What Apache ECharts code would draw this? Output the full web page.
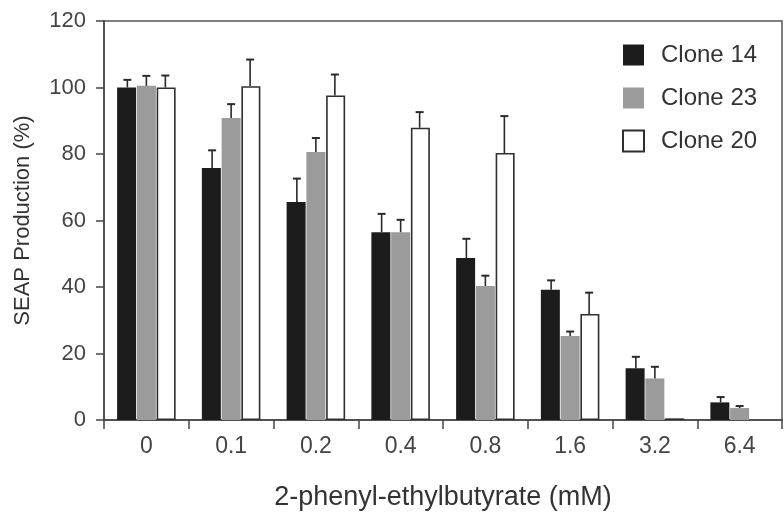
<!DOCTYPE html>
<html>
<head>
<meta charset="utf-8">
<script src="https://cdn.jsdelivr.net/npm/echarts@6/dist/echarts.min.js"></script>
<style>
  html, body { margin: 0; padding: 0; background: #fff; }
  #chart { width: 784px; height: 520px; }
</style>
</head>
<body>
<div id="chart"></div>
<script>
// concentrations (mM)
const categories = ['0', '0.1', '0.2', '0.4', '0.8', '1.6', '3.2', '6.4'];
// SEAP production (%) per clone
const clone14 = [100, 75.8, 65.6, 56.5, 48.7, 39.2, 15.6, 5.3];
const clone23 = [100.5, 90.8, 80.6, 56.5, 40.3, 25.3, 12.5, 3.6];
const clone20 = [100, 100.4, 97.6, 87.9, 80.3, 31.9, 0.5, null];
// top end of each error bar
const clone14Err = [102.3, 81.1, 72.6, 62, 54.5, 42, 19, 6.9];
const clone23Err = [103.5, 95, 84.8, 60.2, 43.4, 26.6, 16, 4.2];
const clone20Err = [103.6, 108.4, 103.9, 92.6, 91.4, 38.3, null, null];
const yTicks = [0, 20, 40, 60, 80, 100, 120];

const barW = 19;
const font = '"Liberation Sans", Arial, sans-serif';

// error bar drawn from the bar top upwards, shifted to its bar inside the group
function errSeries(name, vals, tops, slot) {
  const data = vals.map((v, i) => (v == null || tops[i] == null) ? [i, null, null] : [i, v, tops[i]]);
  return {
    name: name,
    type: 'custom',
    z: 5,
    silent: true,
    encode: { x: 0, y: [1, 2] },
    data: data,
    renderItem: function (params, api) {
      if (api.value(1) == null || isNaN(api.value(1))) return;
      const idx = api.value(0);
      const base = api.coord([idx, api.value(1)]);
      const top = api.coord([idx, api.value(2)]);
      const x = base[0] + slot * barW;
      const st = { stroke: '#2a2a2a', lineWidth: 1.6 };
      return {
        type: 'group',
        children: [
          { type: 'line', shape: { x1: x, y1: base[1], x2: x, y2: top[1] }, style: st },
          { type: 'line', shape: { x1: x - 4, y1: top[1], x2: x + 4, y2: top[1] }, style: { stroke: '#2a2a2a', lineWidth: 2 } }
        ]
      };
    }
  };
}

const myChart = echarts.init(document.getElementById('chart'));
const option = {
  animation: false,
  textStyle: { fontFamily: font },
  grid: {
    left: 104, right: 2, top: 21, bottom: 100,
    show: true, borderColor: '#555', borderWidth: 1.5
  },
  legend: {
    orient: 'vertical',
    left: 617, top: 38,
    icon: 'rect',
    itemWidth: 21, itemHeight: 21,
    itemGap: 19,
    data: ['Clone 14', 'Clone 23', 'Clone 20'],
    textStyle: { fontSize: 24, color: '#333', fontFamily: font, padding: [0, 0, 0, 12] }
  },
  xAxis: {
    type: 'category',
    data: categories,
    name: '2-phenyl-ethylbutyrate (mM)',
    nameLocation: 'middle',
    nameGap: 64,
    nameTextStyle: { fontSize: 27, color: '#333', fontFamily: font },
    axisLine: { lineStyle: { color: '#444', width: 1.5 } },
    axisTick: { show: true, length: 9, lineStyle: { color: '#444', width: 1.5 } },
    axisLabel: { fontSize: 23, color: '#444', margin: 15, fontFamily: font },
    splitLine: { show: false }
  },
  yAxis: {
    type: 'value',
    min: yTicks[0], max: yTicks[yTicks.length - 1], interval: 20,
    name: 'SEAP Production (%)',
    nameLocation: 'middle',
    nameGap: 70,
    nameTextStyle: { fontSize: 22, color: '#333', fontFamily: font },
    axisLine: { show: true, lineStyle: { color: '#444', width: 1.5 } },
    axisTick: { show: true, length: 8, lineStyle: { color: '#444', width: 1.5 } },
    axisLabel: { fontSize: 22, color: '#444', margin: 18, fontFamily: font },
    splitLine: { show: false }
  },
  series: [
    {
      name: 'Clone 14', type: 'bar', barWidth: barW, barGap: '4%',
      data: clone14,
      itemStyle: { color: '#1c1c1c' }
    },
    {
      name: 'Clone 23', type: 'bar', barWidth: barW, barGap: '4%',
      data: clone23,
      itemStyle: { color: '#9b9b9b' }
    },
    {
      name: 'Clone 20', type: 'bar', barWidth: barW, barGap: '4%',
      data: clone20,
      itemStyle: { color: '#ffffff', borderColor: '#2f2f2f', borderWidth: 1.6 }
    },
    errSeries('err14', clone14, clone14Err, -1),
    errSeries('err23', clone23, clone23Err, 0),
    errSeries('err20', clone20, clone20Err, 1)
  ]
};
myChart.setOption(option);
</script>
</body>
</html>
